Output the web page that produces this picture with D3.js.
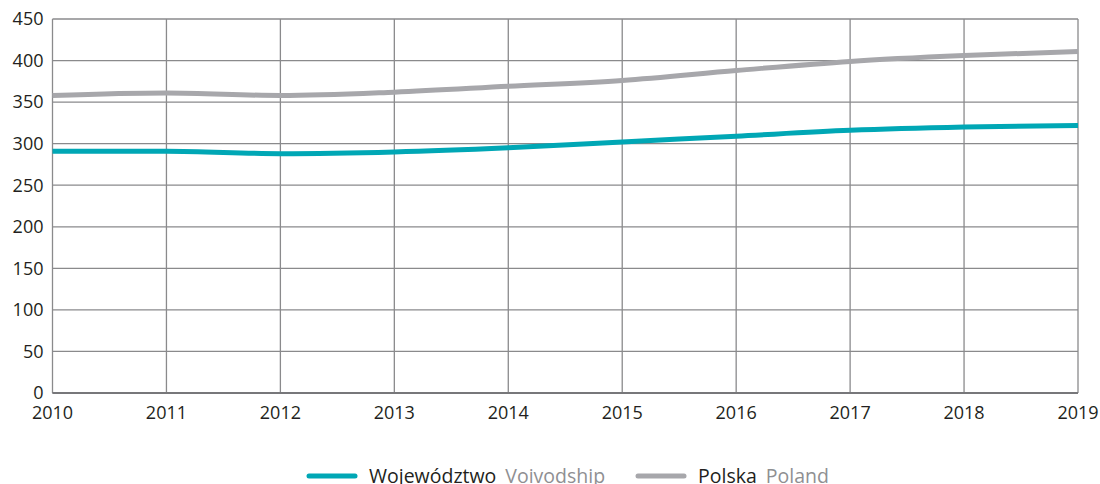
<!DOCTYPE html>
<html>
<head>
<meta charset="utf-8">
<script src="https://cdn.jsdelivr.net/npm/d3@7"></script>
<style>
body { margin: 0; background: #fff; }
text { font-family: "Open Sans", "Noto Sans", sans-serif; }
</style>
</head>
<body>
<svg id="chart"></svg>
<script>
// data
var years = [2010, 2011, 2012, 2013, 2014, 2015, 2016, 2017, 2018, 2019];
var wojewodztwo = [291, 291, 288, 290, 295, 302, 309, 316, 320, 322];
var polska = [358, 361, 358, 362, 369, 376, 388, 399, 406, 411];
var yTicks = [0, 50, 100, 150, 200, 250, 300, 350, 400, 450];

var W = 1100, H = 484;
var margin = {top: 19, right: 22, bottom: 91, left: 52.5},
width = W - margin.left - margin.right,
height = H - margin.top - margin.bottom;

var svg = d3.select("#chart")
.attr("width", W)
.attr("height", H);

var g = svg.append("g")
.attr("transform", "translate(" + margin.left + "," + margin.top + ")");

var x = d3.scaleLinear()
.domain([2010, 2019])
.range([0, width]);

var y = d3.scaleLinear()
.domain([0, 450])
.range([height, 0]);

// grid
g.append("g")
.selectAll("line")
.data(yTicks)
.enter()
.append("line")
.attr("x1", 0)
.attr("x2", width)
.attr("y1", function(d){return y(d);})
.attr("y2", function(d){return y(d);})
.attr("stroke", "#8a8a8c")
.attr("stroke-width", 1.3);

g.append("g")
.selectAll("line")
.data(years)
.enter()
.append("line")
.attr("x1", function(d){return x(d);})
.attr("x2", function(d){return x(d);})
.attr("y1", 0)
.attr("y2", height)
.attr("stroke", "#8a8a8c")
.attr("stroke-width", 1.3);

// bottom axis line
g.append("line")
.attr("x1", 0).attr("x2", width)
.attr("y1", height).attr("y2", height)
.attr("stroke", "#77777a")
.attr("stroke-width", 2);

// y labels
g.append("g")
.selectAll("text")
.data(yTicks)
.enter()
.append("text")
.attr("x", -9)
.attr("y", function(d){return y(d);})
.attr("dy", "0.35em")
.attr("text-anchor", "end")
.attr("fill", "#231f20")
.style("font-size", "18px")
.text(function(d){return d;});

// x labels
g.append("g")
.selectAll("text")
.data(years)
.enter()
.append("text")
.attr("x", function(d){return x(d);})
.attr("y", height + 26)
.attr("text-anchor", "middle")
.attr("fill", "#231f20")
.style("font-size", "18px")
.text(function(d){return d;});

// lines
var line = d3.line()
.x(function(d, i){return x(years[i]);})
.y(function(d){return y(d);})
.curve(d3.curveMonotoneX);

g.append("path")
.datum(polska)
.attr("d", line)
.attr("fill", "none")
.attr("stroke", "#a7a7ab")
.attr("stroke-width", 5);

g.append("path")
.datum(wojewodztwo)
.attr("d", line)
.attr("fill", "none")
.attr("stroke", "#00a7b5")
.attr("stroke-width", 5);

// legend
var legend = [
  {name: "Województwo", en: "Voivodship", color: "#00a7b5", x: 307},
  {name: "Polska", en: "Poland", color: "#a7a7ab", x: 636}
];
var lg = svg.append("g").selectAll("g")
.data(legend)
.enter()
.append("g")
.attr("transform", function(d){return "translate(" + d.x + ",476)";});

lg.append("line")
.attr("x1", 2).attr("x2", 48)
.attr("y1", 0).attr("y2", 0)
.attr("stroke", function(d){return d.color;})
.attr("stroke-width", 5)
.attr("stroke-linecap", "round");

var t = lg.append("text")
.attr("x", 62)
.attr("y", 0)
.attr("dy", "0.35em")
.style("font-size", "19.5px");
t.append("tspan").attr("fill", "#231f20").text(function(d){return d.name;});
t.append("tspan").attr("fill", "#8f8f92").attr("dx", 9).text(function(d){return d.en;});
</script>
</body>
</html>
